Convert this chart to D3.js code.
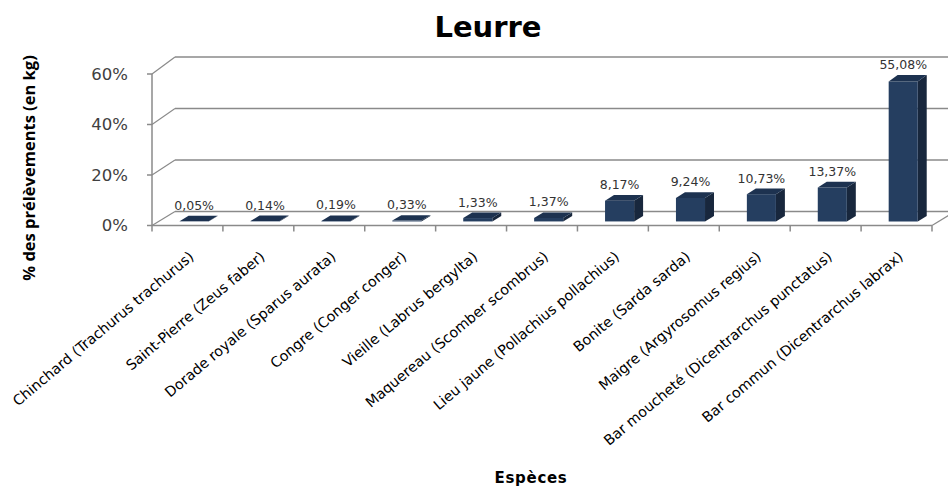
<!DOCTYPE html>
<html>
<head>
<meta charset="utf-8">
<script src="https://cdn.jsdelivr.net/npm/d3@7"></script>
<style>
  body { margin: 0; background: #fff; }
  svg { display: block; }
</style>
</head>
<body>
<script>
// chart data
var categories = ["Chinchard (Trachurus trachurus)", "Saint-Pierre (Zeus faber)", "Dorade royale (Sparus aurata)",
                  "Congre (Conger conger)", "Vieille (Labrus bergylta)", "Maquereau (Scomber scombrus)",
                  "Lieu jaune (Pollachius pollachius)", "Bonite (Sarda sarda)", "Maigre (Argyrosomus regius)",
                  "Bar moucheté (Dicentrarchus punctatus)", "Bar commun (Dicentrarchus labrax)"];
var values = [0.05, 0.14, 0.19, 0.33, 1.33, 1.37, 8.17, 9.24, 10.73, 13.37, 55.08];
var valueLabels = ["0,05%", "0,14%", "0,19%", "0,33%", "1,33%", "1,37%", "8,17%", "9,24%", "10,73%", "13,37%", "55,08%"];
var yTicks = [0, 20, 40, 60];
var yTickLabels = ["0%", "20%", "40%", "60%"];

(function(){
  var width = 948, height = 488;

  var svg = d3.select("body").append("svg")
    .attr("width", width)
    .attr("height", height);

  // front plane scales
  var x = d3.scaleBand().domain(categories).range([152, 932]);
  var yFront = d3.scaleLinear().domain([0, 60]).range([225.5, 74]);
  var yBack = d3.scaleLinear().domain([0, 60]).range([211.5, 57]);
  var depthX = 23;

  // project a point: front x, value, depth fraction (0 = front, 1 = back wall)
  function p(px, v, f){
    var yf = yFront(v), yb = yBack(v);
    return [px + depthX * f, yf + (yb - yf) * f];
  }
  function poly(pts){
    return pts.map(function(d){ return d[0].toFixed(2) + "," + d[1].toFixed(2); }).join(" ");
  }

  var gridColor = "#8a8a8a";

  // back wall gridlines
  svg.selectAll(".grid")
    .data(yTicks)
    .enter().append("line")
    .attr("class", "grid")
    .attr("x1", function(d){ return p(x.range()[0], d, 1)[0]; })
    .attr("x2", function(d){ return p(x.range()[1], d, 1)[0]; })
    .attr("y1", function(d){ return yBack(d); })
    .attr("y2", function(d){ return yBack(d); })
    .attr("stroke", gridColor)
    .attr("stroke-width", 1.5);

  // left wall connectors
  svg.selectAll(".conn")
    .data(yTicks)
    .enter().append("line")
    .attr("class", "conn")
    .attr("x1", x.range()[0])
    .attr("y1", function(d){ return yFront(d); })
    .attr("x2", function(d){ return p(x.range()[0], d, 1)[0]; })
    .attr("y2", function(d){ return yBack(d); })
    .attr("stroke", gridColor)
    .attr("stroke-width", 1.2);

  // floor right edge
  var fr0 = p(x.range()[1], 0, 0), fr1 = p(x.range()[1], 0, 1);
  svg.append("line")
    .attr("x1", fr0[0]).attr("y1", fr0[1])
    .attr("x2", fr1[0]).attr("y2", fr1[1])
    .attr("stroke", gridColor)
    .attr("stroke-width", 1.2);

  // front value axis
  svg.append("line")
    .attr("x1", x.range()[0]).attr("x2", x.range()[0])
    .attr("y1", yFront(60)).attr("y2", yFront(0))
    .attr("stroke", gridColor)
    .attr("stroke-width", 1.5);

  svg.selectAll(".ytick")
    .data(yTicks)
    .enter().append("line")
    .attr("x1", x.range()[0] - 5).attr("x2", x.range()[0])
    .attr("y1", function(d){ return yFront(d); })
    .attr("y2", function(d){ return yFront(d); })
    .attr("stroke", gridColor)
    .attr("stroke-width", 1.5);

  svg.selectAll(".ylab")
    .data(yTicks)
    .enter().append("text")
    .attr("x", 128)
    .attr("y", function(d){ return yFront(d); })
    .attr("dy", "0.36em")
    .attr("text-anchor", "end")
    .attr("font-family", "DejaVu Sans")
    .attr("font-size", 16.5)
    .attr("fill", "#404040")
    .text(function(d, i){ return yTickLabels[i]; });

  // front category axis
  svg.append("line")
    .attr("x1", x.range()[0]).attr("x2", x.range()[1])
    .attr("y1", yFront(0)).attr("y2", yFront(0))
    .attr("stroke", gridColor)
    .attr("stroke-width", 1.5);

  var tickXs = categories.map(function(c){ return x(c); }).concat([x.range()[1]]);
  svg.selectAll(".xtick")
    .data(tickXs)
    .enter().append("line")
    .attr("x1", function(d){ return d; }).attr("x2", function(d){ return d; })
    .attr("y1", yFront(0)).attr("y2", yFront(0) + 6)
    .attr("stroke", gridColor)
    .attr("stroke-width", 1.5);

  // 3D bars
  var f1 = 0.29, f2 = 0.68;
  var bw = x.bandwidth() * 0.41;
  var bars = svg.selectAll(".bar")
    .data(values)
    .enter().append("g")
    .attr("class", "bar");

  bars.append("polygon")
    .attr("points", function(d, i){
      var c = x(categories[i]) + x.bandwidth() / 2, b0 = c - bw / 2, b1 = c + bw / 2;
      return poly([p(b1, 0, f1), p(b1, 0, f2), p(b1, d, f2), p(b1, d, f1)]);
    })
    .attr("fill", "#18273d");

  bars.append("polygon")
    .attr("points", function(d, i){
      var c = x(categories[i]) + x.bandwidth() / 2, b0 = c - bw / 2, b1 = c + bw / 2;
      return poly([p(b0, 0, f1), p(b1, 0, f1), p(b1, d, f1), p(b0, d, f1)]);
    })
    .attr("fill", "#253e60");

  bars.append("polygon")
    .attr("points", function(d, i){
      var c = x(categories[i]) + x.bandwidth() / 2, b0 = c - bw / 2, b1 = c + bw / 2;
      return poly([p(b0, d, f1), p(b1, d, f1), p(b1, d, f2), p(b0, d, f2)]);
    })
    .attr("fill", "#1d3250");

  // data labels
  svg.selectAll(".vlab")
    .data(values)
    .enter().append("text")
    .attr("x", function(d, i){ return p(x(categories[i]) + x.bandwidth() / 2, d, f1)[0]; })
    .attr("y", function(d){ return p(0, d, f2)[1] - 6; })
    .attr("text-anchor", "middle")
    .attr("font-family", "DejaVu Sans")
    .attr("font-size", 12.5)
    .attr("fill", "#333")
    .text(function(d, i){ return valueLabels[i]; });

  // category labels
  svg.selectAll(".xlab")
    .data(categories)
    .enter().append("text")
    .attr("transform", function(d){
      return "translate(" + (x(d) + x.bandwidth() / 2 + 0.5) + "," + 250 + ") rotate(-40)";
    })
    .attr("dy", "0.75em")
    .attr("text-anchor", "end")
    .attr("font-family", "DejaVu Sans")
    .attr("font-size", 14.3)
    .attr("fill", "#000")
    .text(function(d){ return d; });

  // titles
  svg.append("text")
    .attr("x", 488).attr("y", 37)
    .attr("text-anchor", "middle")
    .attr("font-family", "DejaVu Sans")
    .attr("font-weight", "bold")
    .attr("font-size", 29)
    .text("Leurre");

  svg.append("text")
    .attr("transform", "translate(35,168) rotate(-90)")
    .attr("text-anchor", "middle")
    .attr("font-family", "Open Sans")
    .attr("font-weight", "bold")
    .attr("font-size", 16.5)
    .text("% des prélèvements (en kg)");

  svg.append("text")
    .attr("x", 531).attr("y", 483)
    .attr("text-anchor", "middle")
    .attr("font-family", "DejaVu Sans")
    .attr("font-weight", "bold")
    .attr("font-size", 15)
    .attr("letter-spacing", 0.7)
    .text("Espèces");
})();
</script>
</body>
</html>
